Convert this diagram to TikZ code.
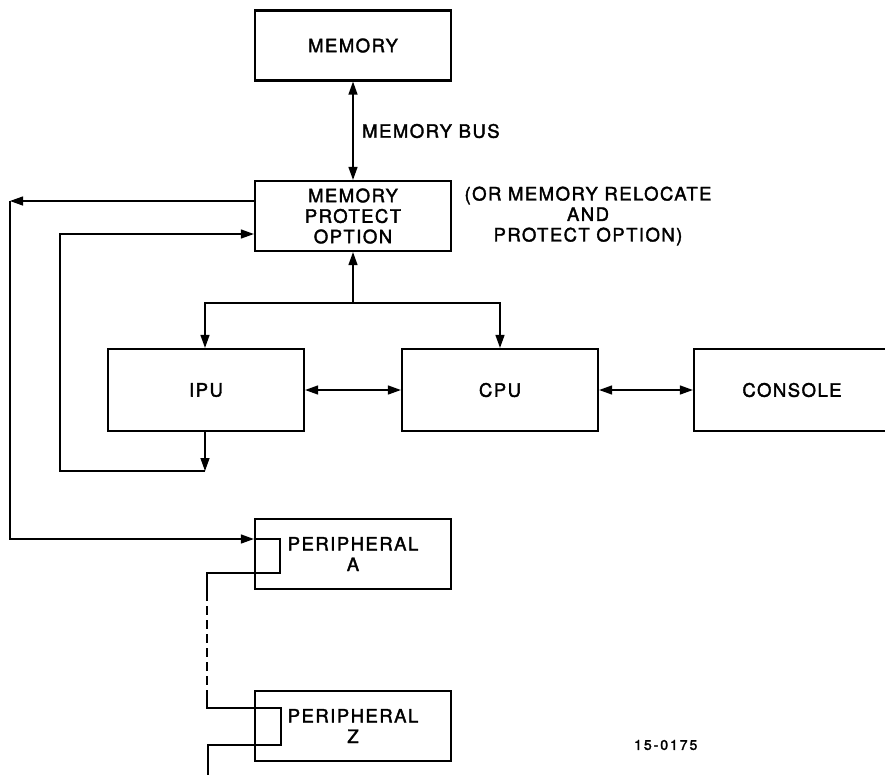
\documentclass[tikz,border=0pt]{standalone}
\usepackage{fontspec}
\setmainfont{TeX Gyre Heros}[LetterSpace=8,FakeBold=2]
\usetikzlibrary{arrows.meta}
\newcommand\lbl{\fontsize{18.5}{20.5}\selectfont}
\newcommand\smlbl{\addfontfeatures{LetterSpace=14}\fontsize{14}{16}\selectfont}
\begin{document}
\begin{tikzpicture}[x=1pt,y=-1pt,
  box/.style={draw, line width=2.2pt, minimum width=196pt, minimum height=70pt,
              align=center, inner sep=0pt, font=\lbl},
  conn/.style={line width=1.3pt},
  tip/.style={conn,-{Triangle[length=13pt,width=9pt]}},
  dbl/.style={conn,{Triangle[length=13pt,width=9pt]}-{Triangle[length=13pt,width=9pt]}},
  note/.style={font=\lbl, align=center, inner sep=0pt}
]
\useasboundingbox (0,0) rectangle (885,774);
\clip (0,0) rectangle (885,774);

% boxes
\node[box] (mem) at (353,45.5) {MEMORY};
\node[box] (mp)  at (353,216) {MEMORY\\PROTECT\\OPTION};
\node[box, minimum height=82pt] (ipu) at (206,390) {IPU};
\node[box, minimum height=82pt] (cpu) at (500,390) {CPU};
\node[box, minimum height=82pt] (con) at (792,390) {CONSOLE};
\node[box] (pa) at (353,554) {PERIPHERAL\\A};
\node[box] (pz) at (353,726) {PERIPHERAL\\Z};

% texts
\node[note, anchor=west] (bus) at (362,131) {MEMORY BUS};
\node[note] (alt) at (588,216) {(OR MEMORY RELOCATE\\AND\\PROTECT OPTION)};
\node[font=\smlbl, anchor=west, inner sep=0pt] (fig) at (634,745) {15-0175};

% memory bus
\draw[dbl] (mem.south) -- (mp.north);

% outer loop to peripherals
\coordinate (c1) at (10,201);
\coordinate (c2) at (10,539);
\draw[tip] (mp.west|-c1) -- (c1);
\draw[tip] (c1) -- (c2) -- (pa.west|-c2);

% inner loop from IPU
\coordinate (l1) at (60,234);
\coordinate (l2) at (60,471);
\coordinate (l3) at (205,471);
\draw[tip] (l3|-ipu.south) -- (l3);
\draw[tip] (l3) -- (l2) -- (l1) -- (mp.west|-l1);

% bus from memory protect to IPU and CPU
\coordinate (b0) at (353,303);
\coordinate (b1) at (205,303);
\coordinate (b2) at (500,303);
\draw[tip] (b0) -- (mp.south);
\draw[tip] (b0) -- (b1) -- (b1|-ipu.north);
\draw[tip] (b0) -- (b2) -- (b2|-cpu.north);

% horizontal links
\draw[dbl] (ipu.east) -- (cpu.west);
\draw[dbl] (cpu.east) -- (con.west);

% peripheral chain
\coordinate (a1) at (280,539);
\coordinate (a2) at (280,573);
\coordinate (a3) at (207,573);
\coordinate (a4) at (207,592);
\coordinate (a5) at (207,690);
\coordinate (a6) at (207,708);
\coordinate (a7) at (281,708);
\coordinate (a8) at (281,745);
\coordinate (a9) at (208,745);
\coordinate (a10) at (208,790);
\draw[conn] (pa.west|-a1) -- (a1) -- (a2) -- (a3) -- (a4);
\draw[conn, dash pattern=on 9pt off 5pt] (a4) -- (a5);
\draw[conn] (a5) -- (a6) -- (a7) -- (a8) -- (a9) -- (a10);
\end{tikzpicture}
\end{document}
